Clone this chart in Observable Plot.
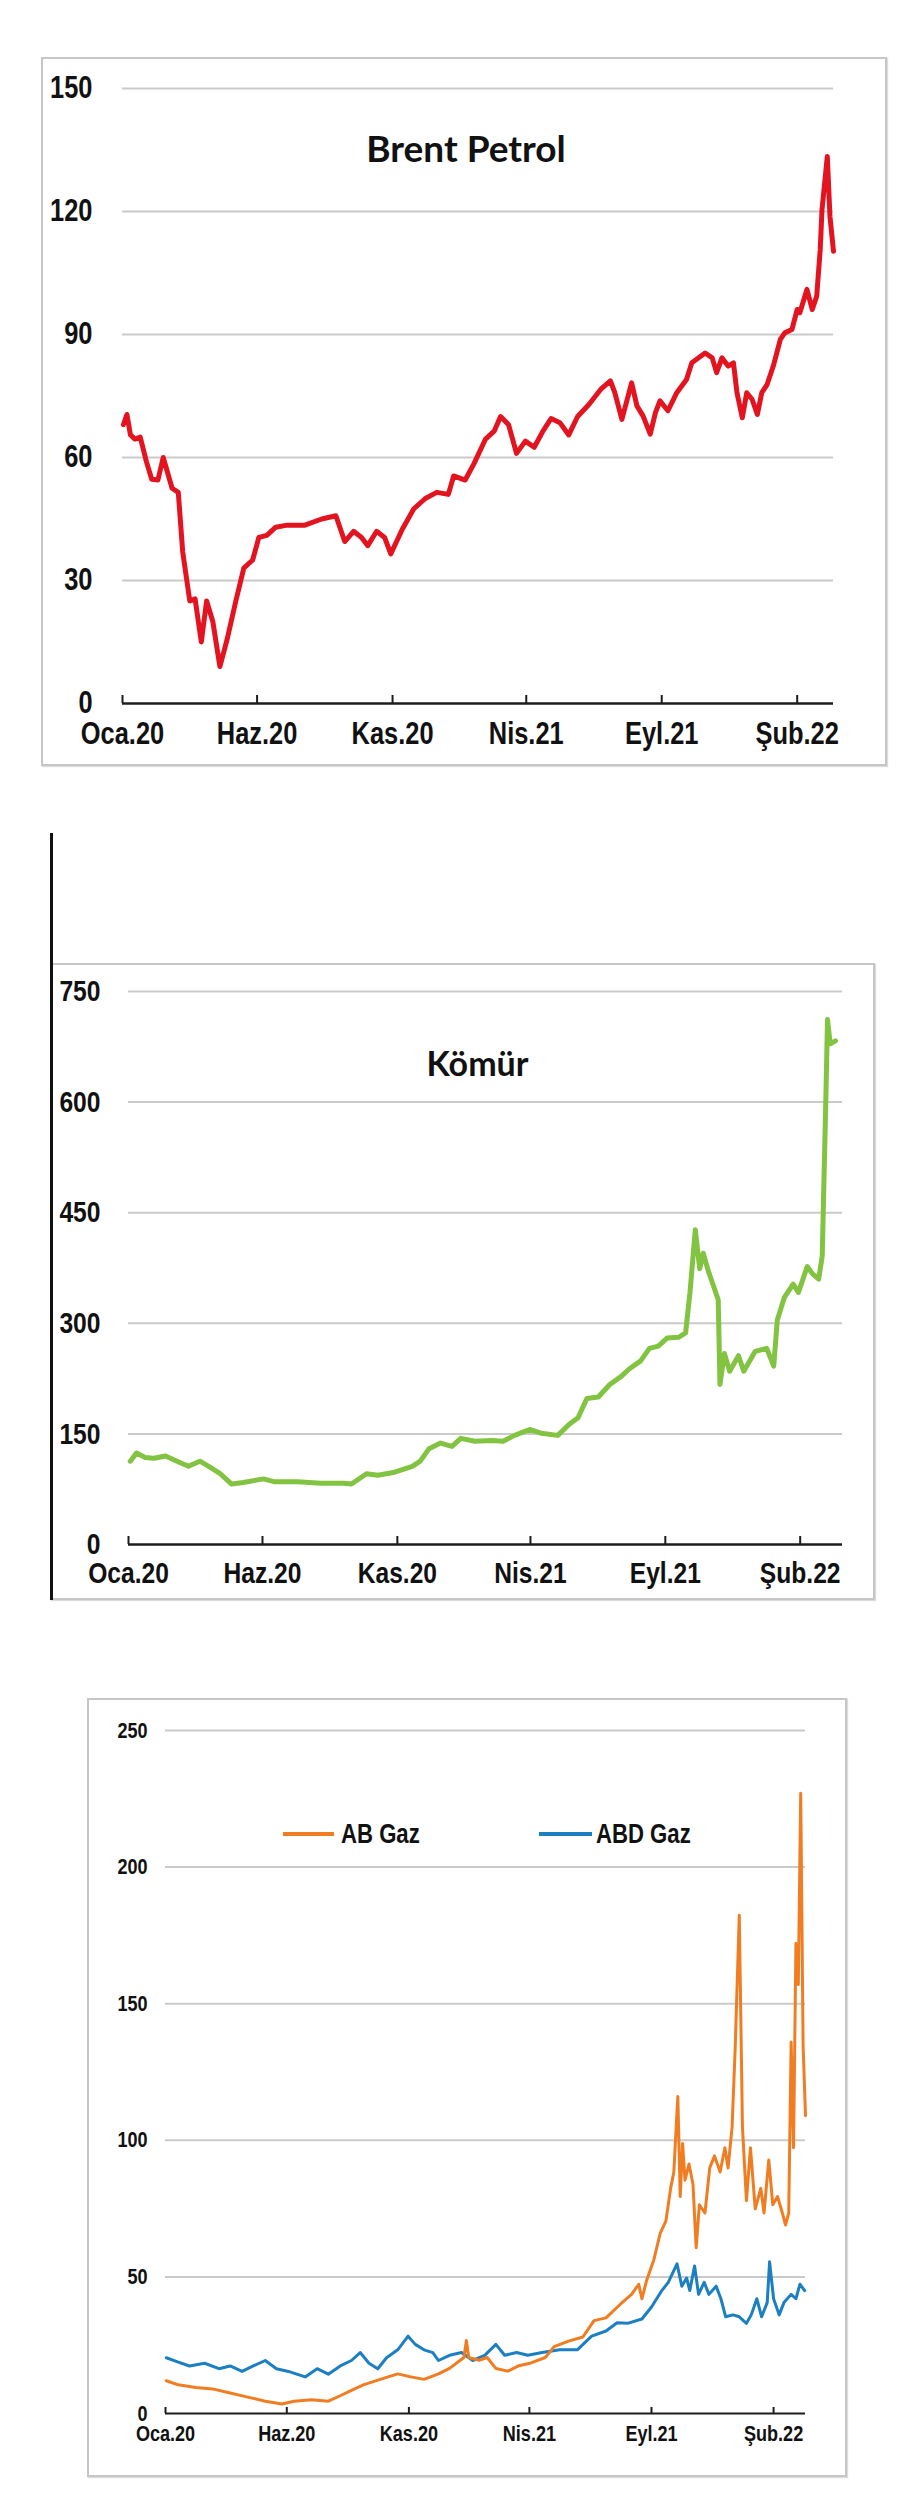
<!DOCTYPE html>
<html>
<head>
<meta charset="utf-8">
<script src="https://cdn.jsdelivr.net/npm/d3@7"></script>
<script src="https://cdn.jsdelivr.net/npm/@observablehq/plot@0.6"></script>
<style>
  body { margin: 0; background: #fff; }
  #page { position: relative; width: 900px; height: 2496px; overflow: hidden; background: #fff; }
  .frame { position: absolute; box-sizing: border-box; border: 2px solid #c6c6c6; box-shadow: 1px 1px 1px #dcdcdc; }
  .legline { position: absolute; height: 4px; }
  .legtext { position: absolute; font-family: 'Liberation Sans', Arial, sans-serif; font-weight: bold; font-size: 27px; line-height: 30px; color: #111; white-space: nowrap; transform: scaleX(0.82); transform-origin: left center; }
</style>
</head>
<body>
<div id="page"></div>
<script>
// ---------- data ----------
const tickDates = ["2020-01-01", "2020-06-01", "2020-11-01", "2021-04-01", "2021-09-01", "2022-02-01"];
const tickLabels = ["Oca.20", "Haz.20", "Kas.20", "Nis.21", "Eyl.21", "Şub.22"];

const brentTitle = "Brent Petrol";
const brentYTicks = [0, 30, 60, 90, 120, 150];
const brentDates = ["2020-01-02","2020-01-06","2020-01-10","2020-01-15","2020-01-21","2020-01-28","2020-02-03","2020-02-10","2020-02-16","2020-02-26","2020-03-04","2020-03-09","2020-03-17","2020-03-23","2020-03-30","2020-04-05","2020-04-12","2020-04-20","2020-04-28","2020-05-08","2020-05-17","2020-05-27","2020-06-03","2020-06-12","2020-06-22","2020-07-05","2020-07-25","2020-08-13","2020-08-29","2020-09-08","2020-09-18","2020-09-27","2020-10-04","2020-10-14","2020-10-23","2020-10-30","2020-11-12","2020-11-25","2020-12-08","2020-12-21","2021-01-03","2021-01-09","2021-01-22","2021-02-01","2021-02-14","2021-02-24","2021-03-03","2021-03-12","2021-03-21","2021-03-31","2021-04-10","2021-04-20","2021-04-29","2021-05-09","2021-05-19","2021-05-29","2021-06-11",
  "2021-06-24","2021-07-05","2021-07-10","2021-07-18","2021-07-29","2021-08-04","2021-08-11","2021-08-19","2021-08-25","2021-08-30","2021-09-08","2021-09-18","2021-09-29","2021-10-05","2021-10-20","2021-10-28","2021-11-02","2021-11-08","2021-11-15","2021-11-21","2021-11-25","2021-12-01","2021-12-06","2021-12-12","2021-12-18","2021-12-23","2021-12-29","2022-01-05","2022-01-13","2022-01-18","2022-01-26","2022-02-01","2022-02-04","2022-02-12","2022-02-18","2022-02-23","2022-02-27","2022-03-01","2022-03-07","2022-03-10","2022-03-14"];
const brentValues = [68,70.5,65.5,64.5,65,59,54.7,54.5,60,52.5,51.5,37,25,25.5,15,25,20,9,15.5,25,33,35,40.5,41,43,43.5,43.5,45,45.8,39.5,42,40.5,38.5,42,40.5,36.5,42.5,47.5,50,51.5,51,55.5,54.5,58.5,64.5,66.5,70,68,61,64,62.5,66.5,69.5,68.5,65.5,70,73,
  76.6,78.7,75.8,69.3,78.2,72.6,70.1,65.7,71,73.8,71.4,75.8,79,83.1,85.5,84.3,80.7,84.3,82.3,83.1,75.8,69.7,75.8,74.2,70.5,75.8,77.8,82.3,88.8,90.4,91.2,96.1,95.3,101,96.1,99.3,110.7,120.4,133.4,118.8,110.3];

const coalTitle = "Kömür";
const coalYTicks = [0, 150, 300, 450, 600, 750];
const coalDates = ["2020-01-03","2020-01-10","2020-01-20","2020-01-30","2020-02-12","2020-02-25","2020-03-09","2020-03-22","2020-04-01","2020-04-14","2020-04-27","2020-05-10","2020-06-02","2020-06-15","2020-07-11","2020-08-06","2020-09-01","2020-09-10","2020-09-27","2020-10-10","2020-10-29","2020-11-18","2020-11-27","2020-12-07","2020-12-20","2021-01-02","2021-01-12","2021-01-28","2021-02-16","2021-03-01","2021-03-14","2021-03-31","2021-04-13","2021-05-02","2021-05-15","2021-05-25","2021-06-04","2021-06-17","2021-06-30","2021-07-13","2021-07-22","2021-08-04","2021-08-14","2021-08-24","2021-09-03","2021-09-16","2021-09-24","2021-09-29","2021-10-05","2021-10-10","2021-10-14","2021-10-20","2021-10-25","2021-10-31","2021-11-02","2021-11-07","2021-11-13","2021-11-23","2021-11-29","2021-12-12","2021-12-25","2022-01-02","2022-01-06","2022-01-14","2022-01-24","2022-01-30","2022-02-09","2022-02-15","2022-02-22","2022-02-26","2022-03-02","2022-03-04","2022-03-07","2022-03-13"];
const coalValues = [113,124,118,117,120,113,106,113,106,96,82,84,89,85,85,83,83,82,96,94,98,106,113,130,137.5,133,144,140,141,140,148,156,151,148,163,172,198,200,217,228,238,249,266,269,280,281,287,342,427,374,395,370,353,332,217,259,235,256,235,262,266,242,304,335,353,342,377,367,360,391,599,712,679,683];

const gasYTicks = [0, 50, 100, 150, 200, 250];
const euGasLabel = "AB Gaz";
const usGasLabel = "ABD Gaz";
const euGasDates = ["2020-01-02","2020-01-17","2020-02-08","2020-02-29","2020-03-22","2020-04-13","2020-05-05","2020-05-26","2020-06-10","2020-07-02","2020-07-23","2020-08-07","2020-08-21","2020-09-05","2020-09-26","2020-10-18","2020-11-02","2020-11-20","2020-12-08","2020-12-22","2021-01-09","2021-01-12","2021-01-15","2021-01-28","2021-02-07","2021-02-18","2021-03-05","2021-03-19","2021-04-03","2021-04-21","2021-05-02","2021-05-20","2021-06-07","2021-06-21","2021-07-06","2021-07-24",
  "2021-08-07","2021-08-16","2021-08-20","2021-08-26","2021-09-04","2021-09-12","2021-09-19","2021-09-25","2021-09-29","2021-10-04","2021-10-07","2021-10-10","2021-10-13","2021-10-18","2021-10-23","2021-10-27","2021-10-31","2021-11-07","2021-11-13","2021-11-19","2021-11-26","2021-12-02","2021-12-06","2021-12-11","2021-12-15","2021-12-20","2021-12-24","2021-12-29","2022-01-03","2022-01-09","2022-01-16","2022-01-20","2022-01-26","2022-01-31","2022-02-06","2022-02-12","2022-02-16","2022-02-20","2022-02-23","2022-02-26","2022-03-01","2022-03-04","2022-03-07","2022-03-10","2022-03-13"];
const euGasValues = [12,10.5,9.5,9,7.5,6,4.5,3.5,4.5,5,4.5,6.5,8.5,10.5,12.5,14.5,13.5,12.5,14.5,16.5,20.5,26.7,20.5,19.5,20.5,16.5,15.5,17.5,18.5,20.5,24.5,26.5,28,34,35,40,
  43.6,47.3,42,48.8,56.3,66,70.4,82.4,88.4,116,79.4,98.8,85.4,91.3,83.9,60.7,76.4,73.4,89.9,94.3,88.4,97.3,89.9,104.8,134.6,182.4,104.8,77.9,97.3,74.9,82.4,73.4,92.8,76.4,79.4,73.4,69,73.4,136,97.3,172,157,227,134.6,109];
const usGasDates = ["2020-01-02","2020-01-17","2020-01-31","2020-02-19","2020-03-08","2020-03-22","2020-04-06","2020-04-20","2020-05-05","2020-05-19","2020-06-03","2020-06-24","2020-07-09","2020-07-23","2020-08-07","2020-08-21","2020-09-01","2020-09-12","2020-09-23","2020-10-04","2020-10-18","2020-10-31","2020-11-09","2020-11-20","2020-12-01","2020-12-08","2020-12-22","2021-01-06","2021-01-20","2021-02-04","2021-02-18","2021-03-01","2021-03-16","2021-03-30","2021-04-17","2021-05-09","2021-05-31","2021-06-18","2021-07-06","2021-07-20",
  "2021-08-02","2021-08-20","2021-09-01","2021-09-14","2021-09-22","2021-10-03","2021-10-09","2021-10-15","2021-10-19","2021-10-25","2021-10-30","2021-11-06","2021-11-12","2021-11-21","2021-11-27","2021-12-03","2021-12-12","2021-12-20","2021-12-29","2022-01-04","2022-01-11","2022-01-17","2022-01-24","2022-01-27","2022-02-01","2022-02-08","2022-02-14","2022-02-23","2022-03-01","2022-03-06","2022-03-12"];
const usGasValues = [20.4,18.8,17.4,18.4,16.4,17.4,15.4,17.4,19.4,16.4,15.4,13.4,16.4,14.4,17.4,19.4,22.3,18.4,16.4,20.4,23.3,28.3,25.3,23.3,22.3,19.4,21.3,22.3,19.4,21.3,25.3,21.3,22.3,21.3,22.3,23.3,23.3,28.3,30.2,33.2,
  33,34.6,39,45,48,54.8,46.6,49.6,45,54,43.6,48,43.6,46.6,42,35.4,36.1,35.4,33,36.1,42,35.4,40.6,55.5,42,36.1,40.6,43.6,42,47.3,45];

// ---------- helpers ----------
const LBL = "'Liberation Sans', Arial, sans-serif";
const TITLE_FONT = "Lato, 'Open Sans', sans-serif";
const NARROW = 0.82; // the reference labels use a condensed face
const parse = d3.utcParse("%Y-%m-%d");
const ticks = tickDates.map(parse);
const fmtTick = d => tickLabels[ticks.findIndex(t => +t === +d)];
const toRows = (dates, values) => dates.slice(0, Math.min(dates.length, values.length)).map((d, i) => ({date: parse(d), value: values[i]}));

const page = document.getElementById("page");
function box(cls, left, top, width, height, extra = {}) {
  const el = document.createElement("div");
  el.className = cls;
  Object.assign(el.style, {left: left + "px", top: top + "px", width: width + "px", height: height + "px"}, extra);
  page.appendChild(el);
  return el;
}

function chart(cfg) {
  const marks = [
    Plot.ruleY(cfg.yTicks.filter(v => v > 0), {stroke: "#cacaca", strokeWidth: 2}),
    ...cfg.series.map(s => Plot.line(s.rows, {x: "date", y: "value", stroke: s.color, strokeWidth: s.width, strokeLinejoin: "round", strokeLinecap: "round"})),
    Plot.ruleY([0], {stroke: "#1c1c1c", strokeWidth: cfg.axisW}),
    Plot.ruleX(ticks, {x: d => d, y1: 0, y2: 0, insetBottom: cfg.tickLen, stroke: "#1c1c1c", strokeWidth: 2}),
    Plot.axisY({ticks: cfg.yTicks, tickSize: 0, tickPadding: cfg.yPad, label: null, fontSize: cfg.fontSize, fontWeight: "bold", fontFamily: LBL}),
    Plot.axisX({ticks, tickSize: 0, tickPadding: cfg.xPad, label: null, tickFormat: fmtTick, fontSize: cfg.fontSize, fontWeight: "bold", fontFamily: LBL})
  ];
  if (cfg.title) {
    marks.push(Plot.text([cfg.title], {text: d => d, frameAnchor: "top", dx: cfg.titleDx, dy: cfg.titleDy, lineAnchor: "middle", fontSize: cfg.titleSize, fontWeight: "bold", fontFamily: TITLE_FONT, fill: "#111"}));
  }
  const svg = Plot.plot({
    width: 900,
    height: cfg.height,
    marginTop: cfg.mt, marginBottom: cfg.mb, marginLeft: cfg.ml, marginRight: cfg.mr,
    x: {type: "utc", domain: [parse("2020-01-01"), parse(cfg.xEnd)]},
    y: {domain: [cfg.yTicks[0], cfg.yTicks[cfg.yTicks.length - 1]]},
    style: {background: "transparent", color: "#111", fontFamily: LBL, overflow: "visible"},
    marks
  });
  svg.style.position = "absolute";
  svg.style.left = "0px";
  svg.style.top = cfg.top + "px";
  page.appendChild(svg);
  // condense the tick labels like the reference's narrow face
  svg.querySelectorAll('g[aria-label$="tick label"] text').forEach(t => {
    const L = t.getComputedTextLength();
    if (L > 0) {
      t.setAttribute("textLength", (L * NARROW).toFixed(1));
      t.setAttribute("lengthAdjust", "spacingAndGlyphs");
    }
  });
}

// ---------- frames ----------
box("frame", 41, 57, 846, 709);
box("frame", 50, 963, 825, 637);
box("frame", 87, 1698, 760, 779);
box("", 50, 833, 3, 767, {position: "absolute", background: "#111"});

// ---------- chart 1: Brent ----------
chart({
  top: 0, height: 800, mt: 88, mb: 97, ml: 122, mr: 67, xEnd: "2022-03-14",
  yTicks: brentYTicks, fontSize: 31, yPad: 30, xPad: 18, tickLen: 8, axisW: 2.5,
  title: brentTitle, titleDx: -12, titleDy: 62, titleSize: 37,
  series: [{rows: toRows(brentDates, brentValues), color: "#e3141f", width: 5}]
});

// ---------- chart 2: Coal ----------
chart({
  top: 800, height: 800, mt: 191, mb: 56, ml: 128, mr: 58, xEnd: "2022-03-21",
  yTicks: coalYTicks, fontSize: 30, yPad: 28, xPad: 17, tickLen: 8, axisW: 2.5,
  title: coalTitle, titleDx: -8, titleDy: 74, titleSize: 34,
  series: [{rows: toRows(coalDates, coalValues), color: "#82c341", width: 5}]
});

// ---------- chart 3: Gas ----------
chart({
  top: 1600, height: 896, mt: 130, mb: 83, ml: 165, mr: 95, xEnd: "2022-03-13",
  yTicks: gasYTicks, fontSize: 22, yPad: 18, xPad: 12, tickLen: 6, axisW: 2,
  series: [
    {rows: toRows(usGasDates, usGasValues), color: "#1b7fc2", width: 3},
    {rows: toRows(euGasDates, euGasValues), color: "#f07d22", width: 3}
  ]
});

// ---------- legend (chart 3) ----------
box("legline", 283, 1832, 51, 4, {background: "#f07d22"});
const t1 = box("legtext", 341, 1819, 110, 30); t1.textContent = euGasLabel;
box("legline", 539, 1832, 53, 4, {background: "#1b7fc2"});
const t2 = box("legtext", 596, 1819, 130, 30); t2.textContent = usGasLabel;
</script>
</body>
</html>
